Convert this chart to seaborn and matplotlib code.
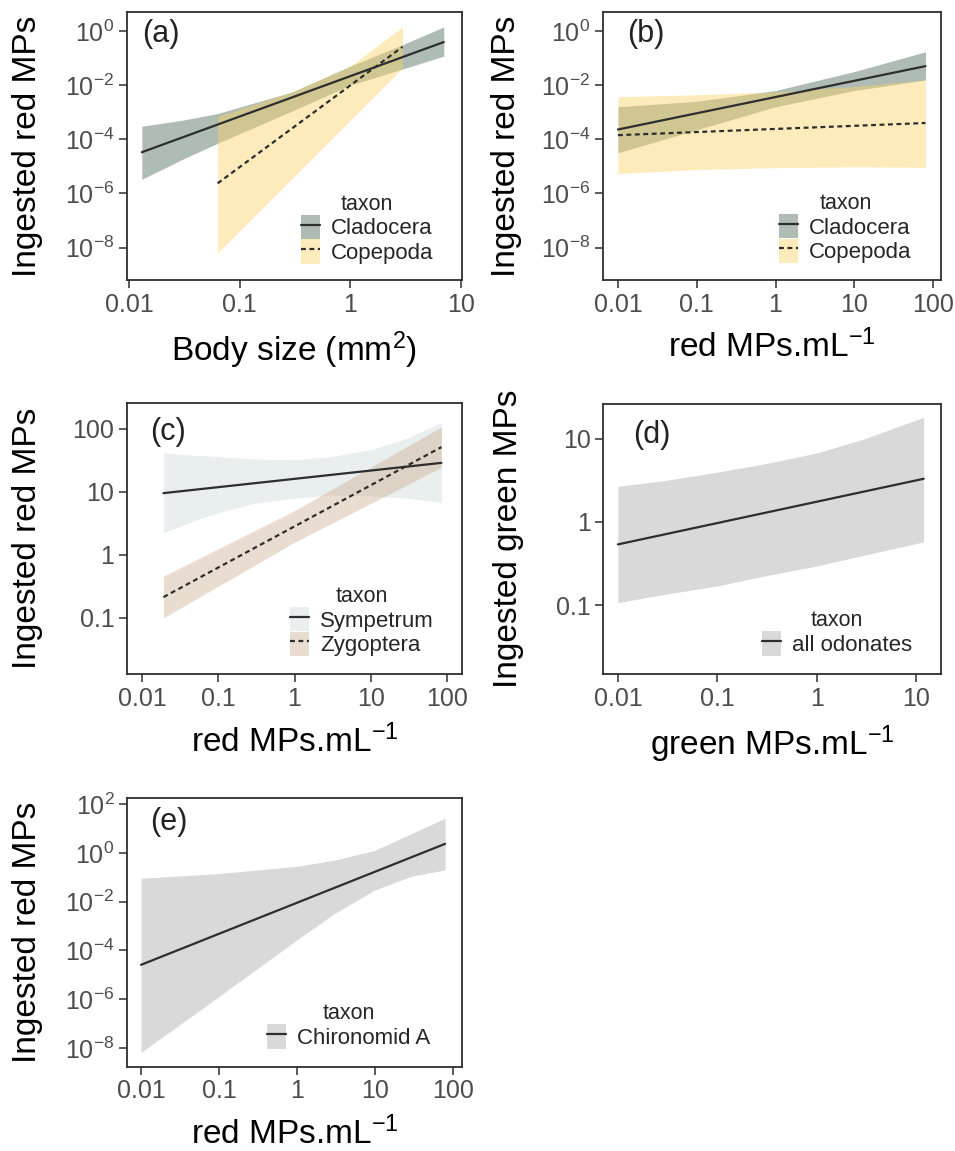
import numpy as np
import matplotlib.pyplot as plt
import seaborn as sns
from matplotlib.patches import Patch
from matplotlib.lines import Line2D

sns.set_theme(style='white')
plt.rcParams['font.family'] = ['Liberation Sans', 'DejaVu Sans']
plt.rcParams['mathtext.default'] = 'regular'

# ---- data (log10 values) ----
# (a) body size
a_clad_x = [0.013, 7.0]
a_clad_y = [-4.48, -0.41]
a_clad_rx = [0.013, 0.03, 0.063, 0.3, 1.0, 3.0, 7.0]
a_clad_hi = [-3.52, -3.3, -3.05, -2.25, -1.3, -0.5, 0.15]
a_clad_lo = [-5.48, -4.75, -4.15, -2.95, -2.0, -1.4, -0.93]
a_cope_x = [0.063, 2.96]
a_cope_y = [-5.63, -0.59]
a_cope_rx = [0.063, 0.3, 1.0, 2.96]
a_cope_hi = [-3.15, -2.25, -1.3, 0.15]
a_cope_lo = [-8.2, -5.43, -3.3, -1.37]

# (b) red MPs, zooplankton
b_clad_x = [0.01, 80]
b_clad_y = [-3.64, -1.3]
b_clad_rx = [0.01, 0.1, 1, 10, 80]
b_clad_hi = [-2.8, -2.6, -2.2, -1.5, -0.77]
b_clad_lo = [-4.5, -3.65, -2.8, -2.2, -1.81]
b_cope_x = [0.01, 80]
b_cope_y = [-3.85, -3.4]
b_cope_rx = [0.01, 0.1, 1, 10, 80]
b_cope_hi = [-2.43, -2.36, -2.25, -2.05, -1.81]
b_cope_lo = [-5.27, -5.12, -5.05, -5.02, -5.04]

# (c) red MPs, odonates
c_symp_x = [0.019, 85]
c_symp_y = [0.98, 1.46]
c_symp_rx = [0.019, 0.05, 0.1, 0.3, 1, 3, 10, 30, 85]
c_symp_hi = [1.62, 1.58, 1.56, 1.52, 1.51, 1.56, 1.67, 1.85, 2.1]
c_symp_lo = [0.35, 0.55, 0.67, 0.82, 0.9, 0.95, 0.94, 0.9, 0.83]
c_zygo_x = [0.019, 85]
c_zygo_y = [-0.67, 1.71]
c_zygo_rx = [0.019, 1, 85]
c_zygo_hi = [-0.34, 0.7, 2.03]
c_zygo_lo = [-1.0, 0.2, 1.39]

# (d) green MPs, all odonates
d_x = [0.01, 11.9]
d_y = [-0.27, 0.52]
d_rx = [0.01, 0.03, 0.1, 0.3, 1, 3, 11.9]
d_hi = [0.43, 0.5, 0.6, 0.7, 0.83, 1.0, 1.26]
d_lo = [-0.97, -0.87, -0.77, -0.65, -0.53, -0.4, -0.24]

# (e) red MPs, chironomid
e_x = [0.01, 80]
e_y = [-4.59, 0.37]
e_rx = [0.01, 0.1, 1, 3, 10, 30, 80]
e_hi = [-1.04, -0.85, -0.55, -0.3, 0.1, 0.8, 1.42]
e_lo = [-8.18, -5.89, -3.57, -2.5, -1.52, -0.95, -0.7]

LINE = '#2e2e2e'
TICKC = '#4d4d4d'
CLAD, COPE = ('#5f7a6a', 0.5), ('#fbd36a', 0.45)
SYMP, ZYGO = ('#c0d0d0', 0.35), ('#c9a98a', 0.4)
GREY = ('#d9d9d9', 1.0)
DASH = (0, (2.2, 1.6))
LW = 1.6

W, H = 955, 1151
fig = plt.figure(figsize=(W / 100, H / 100), dpi=100)


def make_ax(x0, y0, x1, y1):
    ax = fig.add_axes([x0 / W, 1 - y1 / H, (x1 - x0) / W, (y1 - y0) / H])
    ax.set_xscale('log')
    ax.set_yscale('log')
    for s in ax.spines.values():
        s.set_color(LINE)
        s.set_linewidth(1.3)
    ax.tick_params(which='both', direction='out', length=5.5, width=1.1,
                   color=LINE, labelcolor=TICKC, labelsize=18, pad=3.5,
                   bottom=True, left=True)
    ax.minorticks_off()
    return ax


def draw(ax, rx, hi, lo, x, y, fill, ls):
    ax.fill_between(rx, 10 ** np.array(lo), 10 ** np.array(hi),
                    color=fill[0], alpha=fill[1], lw=0)
    sns.lineplot(x=x, y=10 ** np.array(y), ax=ax, color=LINE, lw=LW,
                 linestyle=ls)


def finish(ax, xlim, ylim, xt, yt, ytl, xlabel, ylabel, tag, tagpos, ylx):
    ax.set_xlim(10 ** xlim[0], 10 ** xlim[1])
    ax.set_ylim(10 ** ylim[0], 10 ** ylim[1])
    ax.set_xticks(xt)
    ax.set_xticklabels([f'{v:g}' for v in xt])
    ax.set_yticks(yt)
    ax.set_yticklabels(ytl)
    ax.minorticks_off()
    ax.set_xlabel(xlabel, fontsize=24, color='black')
    ax.set_ylabel(ylabel, fontsize=24, color='black')
    ax.xaxis.set_label_coords(0.5, -0.185)
    ax.yaxis.set_label_coords(ylx, 0.5)
    ax.text(tagpos[0], tagpos[1], tag, transform=ax.transAxes, fontsize=22,
            va='top', ha='left', color='#222222')


def legend(ax, labels, fills, styles, pos):
    handles = [(Patch(facecolor=f[0], alpha=f[1], edgecolor='none'),
                Line2D([], [], color=LINE, lw=LW, ls=s))
               for f, s in zip(fills, styles)]
    ax.legend(handles, labels, title='taxon', loc='lower left',
              bbox_to_anchor=pos, frameon=False, fontsize=16,
              title_fontsize=15.5, handlelength=0.85, handleheight=1.3,
              labelspacing=0, handletextpad=0.5, borderpad=0,
              borderaxespad=0)


def pow_labels(exps):
    return [f'$10^{{{e}}}$' for e in exps]


red_lab = 'red MPs.mL$^{-1}$'

# (a)
ax = make_ax(127, 12, 462, 280)
draw(ax, a_clad_rx, a_clad_hi, a_clad_lo, a_clad_x, a_clad_y, CLAD, '-')
draw(ax, a_cope_rx, a_cope_hi, a_cope_lo, a_cope_x, a_cope_y, COPE, DASH)
finish(ax, (-2.02, 1.01), (-9.2, 0.7), [0.01, 0.1, 1, 10],
       [10.0 ** e for e in [0, -2, -4, -6, -8]], pow_labels([0, -2, -4, -6, -8]),
       'Body size (mm$^2$)', 'Ingested red MPs', '(a)', (0.045, 0.975), -0.25)
legend(ax, ['Cladocera', 'Copepoda'], [CLAD, COPE], ['-', DASH],
       (0.519, 0.06))

# (b)
ax = make_ax(603, 12, 941, 280)
draw(ax, b_clad_rx, b_clad_hi, b_clad_lo, b_clad_x, b_clad_y, CLAD, '-')
draw(ax, b_cope_rx, b_cope_hi, b_cope_lo, b_cope_x, b_cope_y, COPE, DASH)
finish(ax, (-2.19, 2.1), (-9.2, 0.7), [0.01, 0.1, 1, 10, 100],
       [10.0 ** e for e in [0, -2, -4, -6, -8]], pow_labels([0, -2, -4, -6, -8]),
       red_lab, 'Ingested red MPs', '(b)', (0.07, 0.975), -0.24)
legend(ax, ['Cladocera', 'Copepoda'], [CLAD, COPE], ['-', DASH],
       (0.521, 0.063))

# (c)
ax = make_ax(127, 403, 462, 674)
draw(ax, c_symp_rx, c_symp_hi, c_symp_lo, c_symp_x, c_symp_y, SYMP, '-')
draw(ax, c_zygo_rx, c_zygo_hi, c_zygo_lo, c_zygo_x, c_zygo_y, ZYGO, DASH)
finish(ax, (-2.2, 2.2), (-1.89, 2.41), [0.01, 0.1, 1, 10, 100],
       [100, 10, 1, 0.1], ['100', '10', '1', '0.1'],
       red_lab, 'Ingested red MPs', '(c)', (0.068, 0.948), -0.25)
legend(ax, ['Sympetrum', 'Zygoptera'], [SYMP, ZYGO], ['-', DASH],
       (0.487, 0.066))

# (d)
ax = make_ax(603, 404, 941, 674)
draw(ax, d_rx, d_hi, d_lo, d_x, d_y, GREY, '-')
finish(ax, (-2.15, 1.25), (-1.83, 1.42), [0.01, 0.1, 1, 10],
       [10, 1, 0.1], ['10', '1', '0.1'],
       'green MPs.mL$^{-1}$', 'Ingested green MPs', '(d)', (0.089, 0.942), -0.235)
legend(ax, ['all odonates'], [GREY], ['-'], (0.47, 0.067))

# (e)
ax = make_ax(127, 798, 462, 1067)
draw(ax, e_rx, e_hi, e_lo, e_x, e_y, GREY, '-')
finish(ax, (-2.18, 2.12), (-8.78, 2.25), [0.01, 0.1, 1, 10, 100],
       [10.0 ** e for e in [2, 0, -2, -4, -6, -8]], pow_labels([2, 0, -2, -4, -6, -8]),
       red_lab, 'Ingested red MPs', '(e)', (0.068, 0.968), -0.25)
legend(ax, ['Chironomid A'], [GREY], ['-'], (0.418, 0.067))

fig.savefig('out.png', dpi=100)
